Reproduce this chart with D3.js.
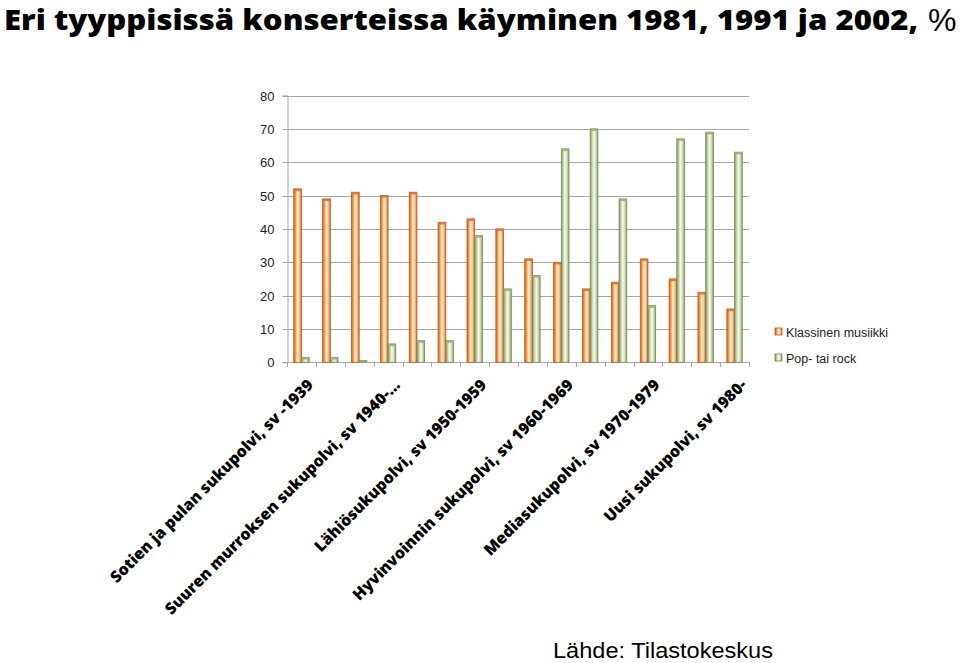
<!DOCTYPE html>
<html>
<head>
<meta charset="utf-8">
<script src="https://cdn.jsdelivr.net/npm/d3@7"></script>
<style>
  html, body { margin: 0; padding: 0; background: #fff; }
  svg { display: block; }
</style>
</head>
<body>
<svg id="chart" width="960" height="663"></svg>
<script>
const titleText = "Eri tyyppisissä konserteissa käyminen 1981, 1991 ja 2002,";
const titlePercent = "%";
const sourceText = "Lähde: Tilastokeskus";
const seriesNames = ["Klassinen musiikki", "Pop- tai rock"];
const categoryIndex = d3.range(16);
const categoryLabels = [
  "Sotien ja pulan sukupolvi, sv -1939", "", "",
  "Suuren murroksen sukupolvi, sv 1940-…", "", "",
  "Lähiösukupolvi, sv 1950-1959", "", "",
  "Hyvinvoinnin sukupolvi, sv 1960-1969", "", "",
  "Mediasukupolvi, sv 1970-1979", "", "",
  "Uusi sukupolvi, sv 1980-"
];
const klassinen = [52, 49, 51, 50, 51, 42, 43, 40, 31, 30, 22, 24, 31, 25, 21, 16];
const popRock   = [1.5, 1.5, 0.5, 5.5, 6.5, 6.5, 38, 22, 26, 64, 70, 49, 17, 67, 69, 63];
const yTicks = [0, 10, 20, 30, 40, 50, 60, 70, 80];

const svg = d3.select("#chart");
const plot = { left: 287, right: 749, top: 95.5, bottom: 362.3 };

const x = d3.scaleBand().domain(categoryIndex).range([plot.left, plot.right]).paddingInner(0).paddingOuter(0);
const xs = d3.scaleBand().domain([0, 1]).range([0, x.bandwidth()]).paddingInner(0).paddingOuter(0.875);
const y = d3.scaleLinear().domain([0, 80]).range([plot.bottom, plot.top]);

// gradients
const defs = svg.append("defs");
const palettes = [
  { id: "gOrange", stops: ["#D4621F", "#F09548", "#FFEFD2", "#FBCB92", "#D96A28"], stroke: "#BE561C", cap: "#DC7232" },
  { id: "gGreen",  stops: ["#869B62", "#BAC99B", "#F8FAEE", "#D8E2BE", "#8AA066"], stroke: "#768A56", cap: "#9DB079" }
];
palettes.forEach(p => {
  const g = defs.append("linearGradient").attr("id", p.id).attr("x1", "0%").attr("x2", "100%").attr("y1", "0%").attr("y2", "0%");
  [0, 22, 48, 72, 100].forEach((o, i) => g.append("stop").attr("offset", o + "%").attr("stop-color", p.stops[i]));
});

// gridlines
svg.append("g").selectAll("line").data(yTicks).join("line")
  .attr("x1", plot.left).attr("x2", plot.right)
  .attr("y1", d => Math.round(y(d)) + 0.5).attr("y2", d => Math.round(y(d)) + 0.5)
  .attr("stroke", "#A6A6A6").attr("stroke-width", 1);

// y axis
const yAxis = svg.append("g").attr("transform", `translate(${plot.left + 0.5},0)`)
  .call(d3.axisLeft(y).tickValues(yTicks).tickSize(5).tickPadding(8));
yAxis.select(".domain").attr("stroke", "#A6A6A6");
yAxis.selectAll(".tick line").attr("stroke", "#A6A6A6");
yAxis.selectAll(".tick text").attr("font-family", "'Liberation Sans', Arial, sans-serif").attr("font-size", 13).attr("fill", "#222");
yAxis.selectAll(".tick").attr("transform", d => `translate(0,${Math.round(y(d)) + 0.5})`);

// x axis line and ticks (at category boundaries)
const xg = svg.append("g");
xg.append("line").attr("x1", plot.left).attr("x2", plot.right + 1)
  .attr("y1", Math.round(plot.bottom) + 0.5).attr("y2", Math.round(plot.bottom) + 0.5)
  .attr("stroke", "#A6A6A6");
xg.selectAll("line.tk").data(d3.range(17)).join("line").attr("class", "tk")
  .attr("x1", d => Math.round(plot.left + d * x.step()) + 0.5)
  .attr("x2", d => Math.round(plot.left + d * x.step()) + 0.5)
  .attr("y1", Math.round(plot.bottom)).attr("y2", Math.round(plot.bottom) + 5)
  .attr("stroke", "#A6A6A6");

// bars
const seriesData = [klassinen, popRock];
seriesData.forEach((vals, si) => {
  const p = palettes[si];
  const g = svg.append("g");
  const bars = g.selectAll("g").data(vals.map((v, i) => ({ v, i }))).join("g");
  bars.append("rect")
    .attr("x", d => x(d.i) + xs(si))
    .attr("y", d => y(d.v))
    .attr("width", xs.bandwidth())
    .attr("height", d => plot.bottom - y(d.v))
    .attr("fill", `url(#${p.id})`)
    .attr("stroke", p.stroke).attr("stroke-width", 0.8);
  bars.append("rect")
    .attr("x", d => x(d.i) + xs(si))
    .attr("y", d => y(d.v))
    .attr("width", xs.bandwidth())
    .attr("height", d => Math.min(2.2, plot.bottom - y(d.v)))
    .attr("fill", p.cap).attr("opacity", 0.9);
});

// x labels
const labelFont = "'Open Sans', 'DejaVu Sans', sans-serif";
const probe = svg.append("text").attr("font-family", labelFont).attr("font-weight", 800).attr("font-size", 15).text(categoryLabels[0]);
const measured = probe.node().getComputedTextLength();
probe.remove();
const labelSize = 15 * 280 / measured;
svg.append("g").selectAll("text").data(categoryIndex.filter(i => categoryLabels[i])).join("text")
  .attr("transform", i => `translate(${x(i) + x.bandwidth() / 2 + 13},${386}) rotate(-45)`)
  .attr("text-anchor", "end")
  .attr("font-family", labelFont).attr("font-weight", 800).attr("font-size", labelSize)
  .attr("fill", "#000")
  .text(i => categoryLabels[i]);

// legend
const legend = svg.append("g");
seriesNames.forEach((name, i) => {
  const p = palettes[i];
  const ly = 332 + i * 26;
  legend.append("rect").attr("x", 775).attr("y", ly - 4).attr("width", 7).attr("height", 7)
    .attr("fill", `url(#${p.id})`).attr("stroke", p.stroke).attr("stroke-width", 0.8);
  legend.append("text").attr("x", 786).attr("y", ly + 4.5)
    .attr("font-family", "'Liberation Sans', Arial, sans-serif").attr("font-size", 12.5).attr("fill", "#222")
    .text(name);
});

// title
const title = svg.append("text").attr("x", 4).attr("y", 30)
  .attr("font-family", "'Open Sans', 'DejaVu Sans', sans-serif").attr("font-weight", 800).attr("font-size", 28)
  .attr("fill", "#000").text(titleText);
title.attr("textLength", 918 - 4).attr("lengthAdjust", "spacingAndGlyphs");
svg.append("text").attr("x", 928).attr("y", 31)
  .attr("font-family", "'Liberation Sans', Arial, sans-serif").attr("font-size", 32).attr("fill", "#000")
  .text(titlePercent);

// source
const src = svg.append("text").attr("x", 553).attr("y", 658)
  .attr("font-family", "'Liberation Sans', Arial, sans-serif").attr("font-size", 22).attr("fill", "#000")
  .text(sourceText);
src.attr("textLength", 220).attr("lengthAdjust", "spacingAndGlyphs");
</script>
</body>
</html>
